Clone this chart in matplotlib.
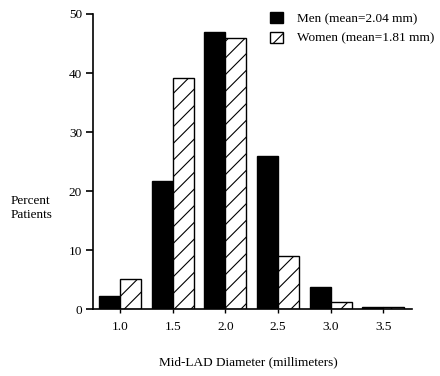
import matplotlib as mpl
mpl.use("Agg")
import matplotlib.pyplot as plt
from matplotlib.patches import Patch
import numpy as np

# Data
diameters = [1.0, 1.5, 2.0, 2.5, 3.0, 3.5]
tick_labels = ["1.0", "1.5", "2.0", "2.5", "3.0", "3.5"]
men_pct = [2.2, 21.7, 47.0, 25.9, 3.8, 0.4]
women_pct = [5.2, 39.2, 45.9, 9.0, 1.3, 0.4]
men_label = "Men (mean=2.04 mm)"
women_label = "Women (mean=1.81 mm)"

plt.rcParams["font.family"] = ["Liberation Serif", "DejaVu Serif"]
plt.rcParams["font.size"] = 9.5
plt.rcParams["hatch.linewidth"] = 0.8

fig = plt.figure(figsize=(4.4, 3.76), dpi=100)
ax = fig.add_axes([0.212, 0.177, 0.724, 0.786])

x = np.array(diameters)
w = 0.2
ax.bar(x - w, men_pct, width=w, align="edge", color="black", edgecolor="black", linewidth=1)
ax.bar(x, women_pct, width=w, align="edge", color="white", edgecolor="black", linewidth=1, hatch="//")

ax.set_xlim(0.746, 3.77)
ax.set_ylim(0, 50)
ax.set_yticks([0, 10, 20, 30, 40, 50])
ax.set_xticks(diameters)
ax.set_xticklabels(tick_labels)

for s in ["top", "right"]:
    ax.spines[s].set_visible(False)
ax.spines["left"].set_linewidth(1.2)
ax.spines["bottom"].set_linewidth(1.2)
ax.tick_params(axis="y", direction="out", length=5, width=1.2, pad=3)
ax.tick_params(axis="x", direction="out", length=3, width=1, pad=5)

fig.text(0.023, 0.447, "Percent\nPatients", ha="left", va="center", linespacing=1.15)
fig.text(0.564, 0.037, "Mid-LAD Diameter (millimeters)", ha="center", va="center")

handles = [Patch(facecolor="black", edgecolor="black", label=men_label),
           Patch(facecolor="white", edgecolor="black", hatch="//", label=women_label)]
fig.legend(handles=handles, loc="upper left", bbox_to_anchor=(0.59, 0.997),
           frameon=False, handlelength=1.0, handleheight=0.95,
           handletextpad=1.0, labelspacing=0.5, borderpad=0.3)

fig.savefig("out.png", dpi=100)
